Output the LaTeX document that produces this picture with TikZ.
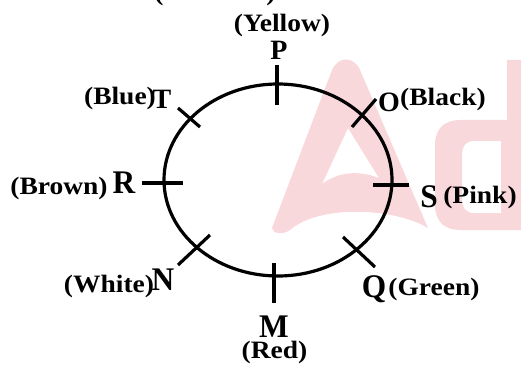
\documentclass[tikz,border=0pt]{standalone}
\usepackage{fontspec}
\setmainfont{Liberation Serif}
\newfontfamily\labfont{Liberation Serif}[FakeStretch=1.1]
\newfontfamily\letfont{Liberation Serif}[FakeStretch=0.95]
\definecolor{wm}{RGB}{248,216,219}
\begin{document}
\begin{tikzpicture}[x=1pt,y=-1pt,
  lab/.style={font=\labfont\bfseries\fontsize{25}{25}\selectfont,inner sep=0pt,anchor=base},
  bigl/.style={font=\letfont\bfseries\fontsize{33}{33}\selectfont,inner sep=0pt,anchor=base},
  midl/.style={font=\bfseries\fontsize{28}{28}\selectfont,inner sep=0pt,anchor=base},
  tick/.style={line width=3.2pt},
  ring/.style={line width=3.2pt}]
\useasboundingbox (0,0) rectangle (521,366);
% watermark
\fill[wm,even odd rule] (272,228) -- (332,70) .. controls (338,56) and (354,56) .. (360,70) -- (428,228)
  .. controls (395,208) and (320,204) .. (290,230) .. controls (283,235) and (273,234) .. (272,228) -- cycle
  (322,184) -- (348,128) -- (379,178) .. controls (358,170) and (338,172) .. (322,184) -- cycle;
\fill[wm,even odd rule] (435,145) .. controls (435,128) and (445,120) .. (460,120) -- (507,120) -- (507,60) -- (521,60) -- (521,230) -- (460,230)
  .. controls (445,230) and (435,222) .. (435,205) -- cycle
  (462,155) .. controls (462,146) and (466,141) .. (474,141) -- (501,141) -- (501,213) -- (474,213)
  .. controls (466,213) and (462,208) .. (462,199) -- cycle;
% ring
\coordinate (ctr) at (278,180);
\draw[ring] (ctr) ellipse [x radius=114, y radius=96];
% ticks
\coordinate (p1) at (277,65);  \coordinate (p2) at (277,105);
\coordinate (m1) at (274,263); \coordinate (m2) at (274,303);
\coordinate (r1) at (142,183); \coordinate (r2) at (183,183);
\coordinate (s1) at (373,185); \coordinate (s2) at (409,185);
\coordinate (t1) at (178,108); \coordinate (t2) at (200,127);
\coordinate (o1) at (352,127); \coordinate (o2) at (376,99);
\coordinate (n1) at (178,265); \coordinate (n2) at (210,235);
\coordinate (q1) at (343,237); \coordinate (q2) at (375,267);
\foreach \a in {p,m,r,s,t,o,n,q} \draw[tick] (\a1) -- (\a2);
% letters
\node[midl] (P) at (279,60) {P};
\node[midl] (T) at (162,109) {T};
\node[midl] (O) at (389,112) {O};
\node[bigl] (R) at (124,193) {R};
\node[bigl] (S) at (429,207) {S};
\node[bigl] (N) at (163,290) {N};
\node[bigl] (Q) at (374,297) {Q};
\node[bigl] (M) at (274,337) {M};
% colour labels
\node[lab] (Ly) at (282,32) {(Yellow)};
\node[lab] (Lbl) at (120,105) {(Blue)};
\node[lab] (Lbk) at (443,106) {(Black)};
\node[lab] (Lbr) at (59,194) {(Brown)};
\node[lab] (Lp) at (480,203) {(Pink)};
\node[lab] (Lw) at (109,292) {(White)};
\node[lab] (Lg) at (434,295) {(Green)};
\node[lab] (Lr) at (274.5,358) {(Red)};
% cut-off fragment at the top
\node[lab] (fa) at (159,1) {(};
\node[lab] (fb) at (271,1) {)};
\end{tikzpicture}
\end{document}
